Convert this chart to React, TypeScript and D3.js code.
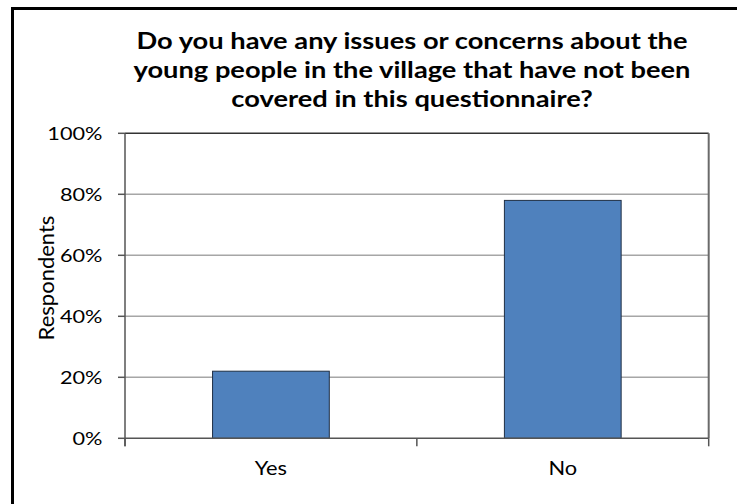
import React from "react";
import * as d3 from "d3";

const TITLE_LINES = [
  "Do you have any issues or concerns about the",
  "young people in the village that have not been",
  "covered in this questionnaire?",
];
const CATEGORIES = ["Yes", "No"];
const VALUES = [0.22, 0.78];
const Y_TICKS = [0, 0.2, 0.4, 0.6, 0.8, 1.0];
const Y_LABEL = "Respondents";

const W = 737;
const H = 504;
const SX = 1.24;
const FONT = "Lato, 'Open Sans', sans-serif";

const plot = { left: 125, right: 708.7, top: 133.3, bottom: 438.3 };

function SText(props: {
  x: number;
  y: number;
  anchor?: string;
  size: number;
  weight?: string | number;
  sx?: number;
  children: React.ReactNode;
}) {
  const { x, y, anchor = "middle", size, weight = "normal", sx = SX, children } = props;
  return (
    <g transform={`translate(${x},${y}) scale(${sx},1)`}>
      <text
        x={0}
        y={0}
        textAnchor={anchor}
        fontSize={size}
        fontWeight={weight}
        fontFamily={FONT}
        fill="#000"
      >
        {children}
      </text>
    </g>
  );
}

export default function App() {
  const x = d3
    .scaleBand<string>()
    .domain(CATEGORIES)
    .range([plot.left, plot.right])
    .paddingInner(0.6)
    .paddingOuter(0.3);
  const y = d3.scaleLinear().domain([0, 1]).range([plot.bottom, plot.top]);
  const fmt = d3.format(".0%");
  const step = (plot.right - plot.left) / CATEGORIES.length;
  const boundaries = d3.range(CATEGORIES.length + 1).map((i) => plot.left + i * step);

  return (
    <svg
      width={W}
      height={H}
      style={{ position: "absolute", left: 0, top: 0, background: "#fff" }}
    >
      <rect x={0} y={0} width={W} height={H} fill="#fff" />
      {/* outer chart border (left and top visible) */}
      <line x1={12.5} y1={8.5} x2={12.5} y2={H} stroke="#000" strokeWidth={3} />
      <line x1={11} y1={8.5} x2={W} y2={8.5} stroke="#000" strokeWidth={3} />

      {/* title */}
      {TITLE_LINES.map((t, i) => (
        <SText key={i} x={412} y={49 + i * 29} size={22} weight="bold">
          {t}
        </SText>
      ))}

      {/* gridlines */}
      {Y_TICKS.filter((t) => t > 0 && t < 1).map((t) => (
        <line
          key={t}
          x1={plot.left}
          x2={plot.right}
          y1={y(t)}
          y2={y(t)}
          stroke="#a6a6a6"
          strokeWidth={1.5}
        />
      ))}
      {/* plot area top & right border */}
      <line x1={plot.left} x2={plot.right} y1={plot.top} y2={plot.top} stroke="#333" strokeWidth={1.5} />
      <line x1={plot.right} x2={plot.right} y1={plot.top} y2={plot.bottom} stroke="#6a6a6a" strokeWidth={2} />

      {/* bars */}
      {CATEGORIES.map((c, i) => (
        <rect
          key={c}
          x={x(c)!}
          y={y(VALUES[i])}
          width={x.bandwidth()}
          height={y(0) - y(VALUES[i])}
          fill="#4f81bd"
          stroke="#1f2f45"
          strokeWidth={1}
        />
      ))}

      {/* y axis */}
      <line x1={plot.left} x2={plot.left} y1={plot.top} y2={plot.bottom + 8} stroke="#555" strokeWidth={1.5} />
      {Y_TICKS.map((t) => (
        <g key={t}>
          <line x1={plot.left - 7} x2={plot.left} y1={y(t)} y2={y(t)} stroke="#555" strokeWidth={1.5} />
          <SText x={102.5} y={y(t) + 6.5} anchor="end" size={17.5}>
            {fmt(t)}
          </SText>
        </g>
      ))}

      {/* x axis */}
      <line x1={plot.left} x2={plot.right} y1={plot.bottom} y2={plot.bottom} stroke="#555" strokeWidth={1.5} />
      {boundaries.map((b, i) => (
        <line key={i} x1={b} x2={b} y1={plot.bottom} y2={plot.bottom + 8} stroke="#555" strokeWidth={1.5} />
      ))}
      {CATEGORIES.map((c) => (
        <SText key={c} x={x(c)! + x.bandwidth() / 2} y={475} size={18.5} sx={1.18}>
          {c}
        </SText>
      ))}

      {/* y label */}
      <g transform={`translate(54,278) rotate(-90)`}>
        <text x={0} y={0} textAnchor="middle" fontSize={22} fontFamily={FONT} fill="#000">
          {Y_LABEL}
        </text>
      </g>
    </svg>
  );
}
